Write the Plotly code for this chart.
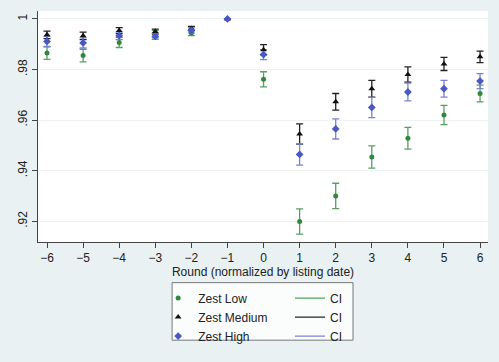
import plotly.graph_objects as go

rounds = [-6, -5, -4, -3, -2, -1, 0, 1, 2, 3, 4, 5, 6]
zest_low = [0.9865, 0.9855, 0.9907, 0.9940, 0.9944, 1.0, 0.9761, 0.9199, 0.9300, 0.9454, 0.9528, 0.9620, 0.9705]
zest_med = [0.9937, 0.9933, 0.9954, 0.9950, 0.9962, 1.0, 0.9878, 0.9545, 0.9672, 0.9724, 0.9780, 0.9822, 0.9850]
zest_high = [0.9911, 0.9905, 0.9933, 0.9931, 0.9955, 1.0, 0.9859, 0.9464, 0.9565, 0.9650, 0.9711, 0.9724, 0.9754]
ci_low = [0.0025, 0.0025, 0.0020, 0.0015, 0.0010, None, 0.0030, 0.0050, 0.0050, 0.0044, 0.0043, 0.0038, 0.0033]
ci_med = [0.0015, 0.0015, 0.0012, 0.0010, 0.0008, None, 0.0020, 0.0040, 0.0033, 0.0033, 0.0030, 0.0026, 0.0023]
ci_high = [0.0020, 0.0020, 0.0015, 0.0012, 0.0010, None, 0.0020, 0.0042, 0.0040, 0.0040, 0.0035, 0.0033, 0.0030]
y_tick_vals = [0.92, 0.94, 0.96, 0.98, 1.0]
y_tick_text = [".92", ".94", ".96", ".98", "1"]
x_tick_vals = rounds
ref_x = 0

series = [
    ("Zest Low", zest_low, ci_low, "#2f8a3f", "#56a062", "circle", 5),
    ("Zest Medium", zest_med, ci_med, "#111111", "#222222", "triangle-up", 6),
    ("Zest High", zest_high, ci_high, "#4a58c4", "#7a82d2", "diamond", 6),
]

fig = go.Figure()


def gapped(vals):
    out = []
    for v in vals:
        out += [v, None]
    return out

# CI traces (legend2)
for name, vals, ci, col, cicol, sym, sz in series:
    fig.add_trace(go.Scatter(
        x=gapped(rounds), y=gapped(vals), mode="lines",
        line=dict(color=cicol, width=1.3), connectgaps=False,
        error_y=dict(type="data", array=gapped(ci), symmetric=True,
                     color=cicol, thickness=1.3, width=3.5),
        name="CI", legend="legend2", hoverinfo="skip",
    ))

# marker traces (legend)
for name, vals, ci, col, cicol, sym, sz in series:
    fig.add_trace(go.Scatter(
        x=rounds, y=vals, mode="markers",
        marker=dict(color=col, symbol=sym, size=sz, line=dict(width=0)),
        name=name, legend="legend",
    ))

fig.add_vline(x=ref_x, line=dict(color="#d5574a", width=1.3), layer="below")

axis_col = "#444444"
fig.update_layout(
    width=499, height=362,
    margin=dict(l=38, r=11, t=11, b=118),
    paper_bgcolor="#e9f1f3",
    plot_bgcolor="#ffffff",
    font=dict(family="Liberation Sans, Arial, sans-serif", size=12, color="#222222"),
    showlegend=True,
    xaxis=dict(
        range=[-6.25, 6.22], tickmode="array", tickvals=x_tick_vals,
        showgrid=False, zeroline=False, showline=True, linecolor=axis_col, linewidth=1,
        ticks="outside", ticklen=5, tickcolor=axis_col, tickfont=dict(size=12),
        title=dict(text="Round (normalized by listing date)", font=dict(size=12), standoff=2),
    ),
    yaxis=dict(
        range=[0.91176, 1.00314], tickmode="array", tickvals=y_tick_vals, ticktext=y_tick_text,
        tickangle=-90, showgrid=True, gridcolor="#eef3f5", gridwidth=1,
        zeroline=False, showline=True, linecolor=axis_col, linewidth=1,
        ticks="outside", ticklen=5, tickcolor=axis_col, tickfont=dict(size=12),
    ),
    legend=dict(x=0.267, y=-0.18, xanchor="left", yanchor="top",
                bgcolor="rgba(0,0,0,0)", borderwidth=0, font=dict(size=12),
                itemwidth=30, tracegroupgap=0),
    legend2=dict(x=0.56, y=-0.18, xanchor="left", yanchor="top",
                 bgcolor="rgba(0,0,0,0)", borderwidth=0, font=dict(size=12),
                 itemwidth=30, tracegroupgap=0),
    shapes=[dict(type="rect", xref="paper", yref="paper",
                 x0=0.298, x1=0.70, y0=-0.425, y1=-0.176,
                 line=dict(color="#777777", width=1), fillcolor="#fbfdfd", layer="below")],
)

fig.write_html("out.html", config={"displayModeBar": False},
               post_script="document.body.style.margin='0';document.body.style.background='#e9f1f3';")
